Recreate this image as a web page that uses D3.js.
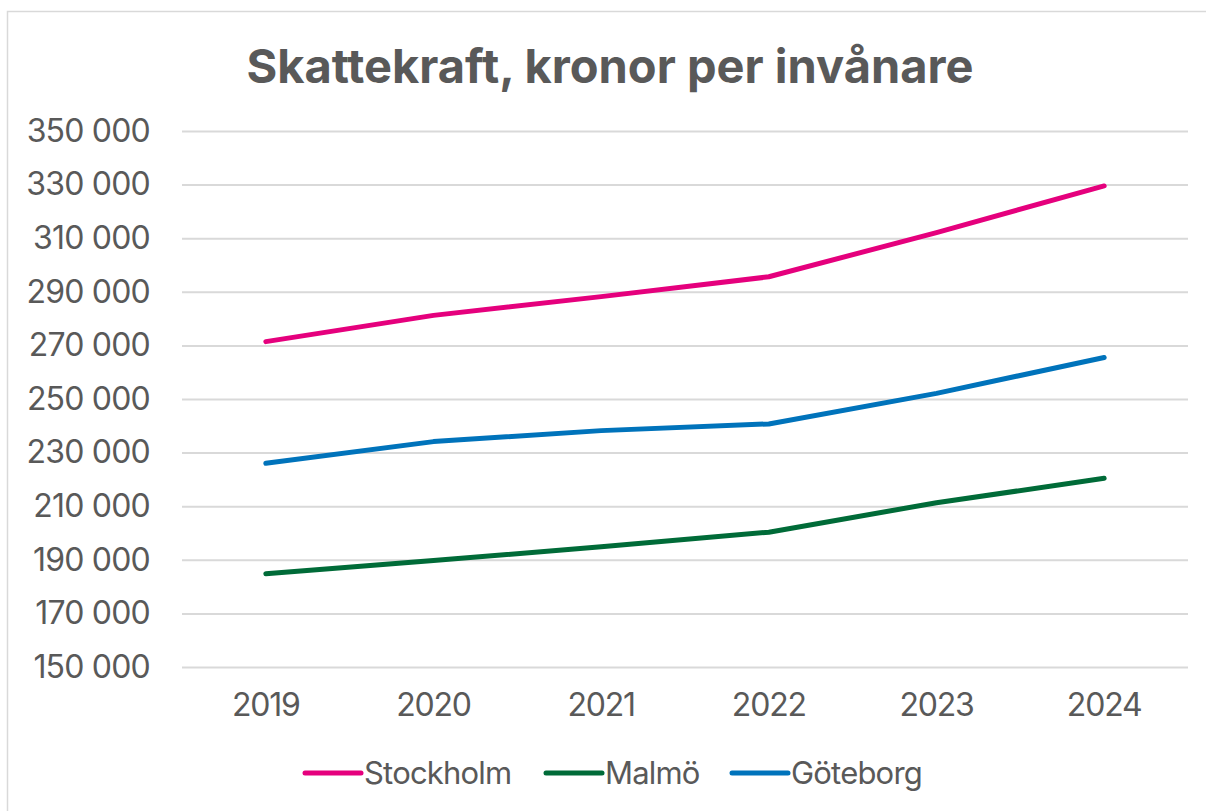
<!DOCTYPE html>
<html>
<head>
<meta charset="utf-8">
<script src="https://cdn.jsdelivr.net/npm/d3@7"></script>
<style>
  body { margin: 0; background: #fff; }
  svg { display: block; }
  text { font-family: Inter, "Open Sans", sans-serif; fill: #595959; }
</style>
</head>
<body>
<svg id="chart" width="1206" height="811"></svg>
<script>
// data
const years = ["2019", "2020", "2021", "2022", "2023", "2024"];
const stockholm = [271400, 281200, 288200, 295600, 312100, 329500];
const malmo = [184800, 189700, 194900, 200300, 211300, 220400];
const goteborg = [226000, 234100, 238200, 240700, 252100, 265500];
const yTicks = [150000, 170000, 190000, 210000, 230000, 250000, 270000, 290000, 310000, 330000, 350000];

const series = [
    {name: "Stockholm", values: stockholm, color: "#e5007d"},
    {name: "Malmö", values: malmo, color: "#006b38"},
    {name: "Göteborg", values: goteborg, color: "#0073bb"}
];

const svg = d3.select("#chart");

// outer chart frame (left + top edges visible)
svg.append("path")
    .attr("d", "M7.5,811 V11.5 H1206")
    .attr("fill", "none")
    .attr("stroke", "#d9d9d9")
    .attr("stroke-width", 1.5);

svg.append("text")
    .attr("x", 610).attr("y", 83)
    .attr("text-anchor", "middle")
    .style("font-size", "47px")
    .style("font-weight", 700)
    .text("Skattekraft, kronor per invånare");

const x = d3.scaleBand().domain(years).range([182, 1188]);
const y = d3.scaleLinear().domain([150000, 350000]).range([667, 131]);

const fmt = v => d3.format(",")(v).replace(/,/g, " ");

// gridlines + y labels via axis
const yAxis = svg.append("g")
    .attr("transform", "translate(182,0)")
    .call(d3.axisLeft(y).tickValues(yTicks).tickSize(-1006).tickPadding(32).tickFormat(fmt));
yAxis.select(".domain").remove();
yAxis.selectAll(".tick line").attr("stroke", "#d9d9d9").attr("stroke-width", 2);
yAxis.selectAll(".tick text")
    .style("font-size", "32px")
    .style("letter-spacing", "-0.8px")
    .attr("fill", "#595959")
    .attr("font-family", null);

const xAxis = svg.append("g")
    .attr("transform", "translate(0,667)")
    .call(d3.axisBottom(x).tickSize(0).tickPadding(26));
xAxis.select(".domain").remove();
xAxis.selectAll(".tick text")
    .style("font-size", "32px")
    .style("letter-spacing", "-1.2px")
    .attr("fill", "#595959")
    .attr("font-family", null);

const line = d3.line()
    .x((d, i) => x(years[i]) + x.bandwidth() / 2)
    .y(d => y(d));

svg.selectAll("path.series")
    .data(series)
    .enter()
    .append("path")
    .attr("class", "series")
    .attr("d", s => line(s.values))
    .attr("fill", "none")
    .attr("stroke", s => s.color)
    .attr("stroke-width", 5)
    .attr("stroke-linecap", "round")
    .attr("stroke-linejoin", "round");

// legend
const legendX = [305, 546, 732];
const legend = svg.selectAll("g.legend")
    .data(series)
    .enter()
    .append("g")
    .attr("class", "legend")
    .attr("transform", (s, i) => `translate(${legendX[i]},773)`);
legend.append("line")
    .attr("x1", 0).attr("x2", 56)
    .attr("stroke", s => s.color)
    .attr("stroke-width", 5)
    .attr("stroke-linecap", "round");
legend.append("text")
    .attr("x", 59).attr("y", 11)
    .style("font-size", "31px")
    .style("letter-spacing", "-0.8px")
    .text(s => s.name);
</script>
</body>
</html>
